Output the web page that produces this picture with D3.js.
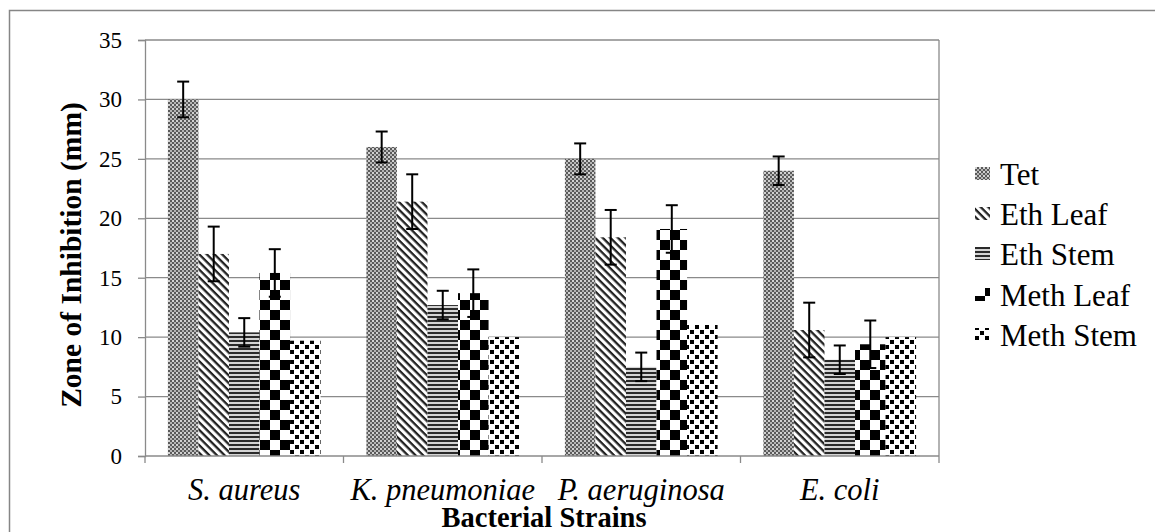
<!DOCTYPE html>
<html><head><meta charset="utf-8">
<script src="https://cdn.jsdelivr.net/npm/d3@7"></script>
<style>html,body{margin:0;padding:0;background:#fff;}svg{display:block;}</style>
</head><body>
<svg id="chart" width="1155" height="532"></svg>
<script>
const categories = ["S. aureus", "K. pneumoniae", "P. aeruginosa", "E. coli"];
const seriesNames = ["Tet", "Eth Leaf", "Eth Stem", "Meth Leaf", "Meth Stem"];
const tetValues = [30, 26, 25, 24];
const tetErrors = [1.5, 1.3, 1.3, 1.2];
const ethLeafValues = [17, 21.4, 18.4, 10.6];
const ethLeafErrors = [2.3, 2.3, 2.3, 2.3];
const ethStemValues = [10.4, 12.7, 7.5, 8.1];
const ethStemErrors = [1.2, 1.2, 1.2, 1.2];
const methLeafValues = [15.4, 13.7, 19.1, 9.4];
const methLeafErrors = [2, 2, 2, 2];
const methStemValues = [9.7, 10, 11.1, 10];
const methStemErrors = [0, 0, 0, 0];
const yTicks = [0, 5, 10, 15, 20, 25, 30, 35];

const valuesBySeries = [tetValues, ethLeafValues, ethStemValues, methLeafValues, methStemValues];
const errorsBySeries = [tetErrors, ethLeafErrors, ethStemErrors, methLeafErrors, methStemErrors];
const patternIds = ["pTet", "pEthLeaf", "pEthStem", "pMethLeaf", "pMethStem"];

const svg = d3.select("#chart");
const serif = "Liberation Serif, Times New Roman, serif";

// outer border
svg.append("rect").attr("x", 9.5).attr("y", 10.5).attr("width", 1200).attr("height", 600)
  .attr("fill", "#fff").attr("stroke", "#868686").attr("stroke-width", 1.5);

// patterns
const defs = svg.append("defs");
let p = defs.append("pattern").attr("id", "pTet").attr("patternUnits", "userSpaceOnUse").attr("width", 4).attr("height", 4);
p.append("rect").attr("width", 4).attr("height", 4).attr("fill", "#5a5a5a");
p.append("rect").attr("x", 0).attr("y", 0).attr("width", 2).attr("height", 2).attr("fill", "#d2d2d2");
p.append("rect").attr("x", 2).attr("y", 2).attr("width", 2).attr("height", 2).attr("fill", "#b4b4b4");

p = defs.append("pattern").attr("id", "pEthLeaf").attr("patternUnits", "userSpaceOnUse")
  .attr("width", 5.4).attr("height", 5.4).attr("patternTransform", "rotate(45)");
p.append("rect").attr("width", 5.4).attr("height", 5.4).attr("fill", "#fff");
p.append("rect").attr("width", 5.4).attr("height", 2.3).attr("fill", "#222");

p = defs.append("pattern").attr("id", "pEthStem").attr("patternUnits", "userSpaceOnUse").attr("width", 4).attr("height", 4);
p.append("rect").attr("width", 4).attr("height", 4).attr("fill", "#d4d4d4");
p.append("rect").attr("width", 4).attr("height", 2).attr("fill", "#2a2a2a");

p = defs.append("pattern").attr("id", "pMethLeaf").attr("patternUnits", "userSpaceOnUse").attr("width", 20).attr("height", 20);
p.append("rect").attr("width", 20).attr("height", 20).attr("fill", "#fff");
p.append("rect").attr("width", 10).attr("height", 10).attr("fill", "#000");
p.append("rect").attr("x", 10).attr("y", 10).attr("width", 10).attr("height", 10).attr("fill", "#000");

p = defs.append("pattern").attr("id", "pMethStem").attr("patternUnits", "userSpaceOnUse").attr("width", 10).attr("height", 10);
p.append("rect").attr("width", 10).attr("height", 10).attr("fill", "#fff");
p.append("rect").attr("x", 0).attr("y", 0).attr("width", 4).attr("height", 4).attr("fill", "#000");
p.append("rect").attr("x", 5).attr("y", 5).attr("width", 4).attr("height", 4).attr("fill", "#000");

// scales
const plotLeft = 145, plotRight = 939, plotTop = 40, plotBottom = 456;
const x = d3.scaleBand().domain(categories).range([plotLeft, plotRight]).padding(0);
const xs = d3.scaleBand().domain(seriesNames).range([0, x.bandwidth()]).paddingInner(0).paddingOuter(0.75);
const y = d3.scaleLinear().domain([0, 35]).range([plotBottom, plotTop]);

// gridlines
svg.append("g").selectAll("line").data(yTicks.filter(t => t > 0)).join("line")
  .attr("x1", plotLeft).attr("x2", plotRight).attr("y1", d => y(d)).attr("y2", d => y(d))
  .attr("stroke", "#8a8a8a").attr("stroke-width", 1.3);
// plot right border
svg.append("line").attr("x1", plotRight).attr("x2", plotRight).attr("y1", plotTop).attr("y2", plotBottom)
  .attr("stroke", "#8a8a8a").attr("stroke-width", 1.3);

// bars
const data = [];
categories.forEach((c, ci) => seriesNames.forEach((s, si) => data.push({c, s, si, v: valuesBySeries[si][ci], e: errorsBySeries[si][ci]})));
svg.append("g").selectAll("rect").data(data).join("rect")
  .attr("x", d => x(d.c) + xs(d.s)).attr("width", xs.bandwidth())
  .attr("y", d => y(d.v)).attr("height", d => y(0) - y(d.v))
  .attr("fill", d => `url(#${patternIds[d.si]})`);

// error bars
const eg = svg.append("g").attr("stroke", "#000").attr("stroke-width", 2);
const withErr = data.filter(d => d.e > 0);
const cx = d => x(d.c) + xs(d.s) + xs.bandwidth() / 2;
eg.selectAll("line.v").data(withErr).join("line").attr("class", "v")
  .attr("x1", cx).attr("x2", cx)
  .attr("y1", d => y(d.v + d.e)).attr("y2", d => y(d.v - d.e));
eg.selectAll("line.ct").data(withErr).join("line").attr("class", "ct")
  .attr("x1", d => cx(d) - 6).attr("x2", d => cx(d) + 6)
  .attr("y1", d => y(d.v + d.e)).attr("y2", d => y(d.v + d.e));
eg.selectAll("line.cb").data(withErr).join("line").attr("class", "cb")
  .attr("x1", d => cx(d) - 6).attr("x2", d => cx(d) + 6)
  .attr("y1", d => y(d.v - d.e)).attr("y2", d => y(d.v - d.e));

// y axis
const yAxis = svg.append("g").attr("transform", `translate(${plotLeft},0)`)
  .call(d3.axisLeft(y).tickValues(yTicks).tickSize(7).tickPadding(16).tickFormat(d3.format("d")));
yAxis.attr("font-family", serif).attr("font-size", 23);
yAxis.select(".domain").attr("stroke", "#8a8a8a").attr("stroke-width", 1.3);
yAxis.selectAll(".tick line").attr("stroke", "#8a8a8a").attr("stroke-width", 1.3);
yAxis.selectAll(".tick text").style("font-family", serif).attr("font-size", 23).attr("fill", "#000");

// x axis
const xAxisG = svg.append("g").attr("transform", `translate(0,${plotBottom})`);
xAxisG.append("line").attr("x1", plotLeft).attr("x2", plotRight).attr("stroke", "#8a8a8a").attr("stroke-width", 1.3);
const boundaries = categories.map(c => x(c)).concat([x(categories[categories.length - 1]) + x.bandwidth()]);
xAxisG.selectAll("line.t").data(boundaries).join("line").attr("class", "t")
  .attr("x1", d => d).attr("x2", d => d).attr("y1", 0).attr("y2", 7)
  .attr("stroke", "#8a8a8a").attr("stroke-width", 1.3);
svg.append("g").selectAll("text").data(categories).join("text")
  .attr("x", d => x(d) + x.bandwidth() / 2).attr("y", 500)
  .attr("text-anchor", "middle").style("font-family", serif).attr("font-style", "italic")
  .attr("font-size", 30.5).attr("fill", "#000").text(d => d);

// axis titles
svg.append("text").attr("x", (plotLeft + plotRight) / 2 + 2).attr("y", 527).attr("text-anchor", "middle")
  .style("font-family", serif).attr("font-weight", "bold").attr("font-size", 28.5).text("Bacterial Strains");
svg.append("text").attr("transform", "translate(81,255) rotate(-90)").attr("text-anchor", "middle")
  .style("font-family", serif).attr("font-weight", "bold").attr("font-size", 29.5).text("Zone of Inhibition (mm)");

// legend
const legY = [175, 215, 255, 296, 336];
const lg = svg.append("g").selectAll("g").data(seriesNames).join("g")
  .attr("transform", (d, i) => `translate(975,${legY[i]})`);
lg.append("rect").attr("x", 0).attr("y", -8).attr("width", 15).attr("height", 13)
  .attr("fill", (d, i) => `url(#${patternIds[i]})`);
lg.append("text").attr("x", 25).attr("y", 10).style("font-family", serif).attr("font-size", 31)
  .attr("fill", "#000").text(d => d);
</script>
</body></html>
